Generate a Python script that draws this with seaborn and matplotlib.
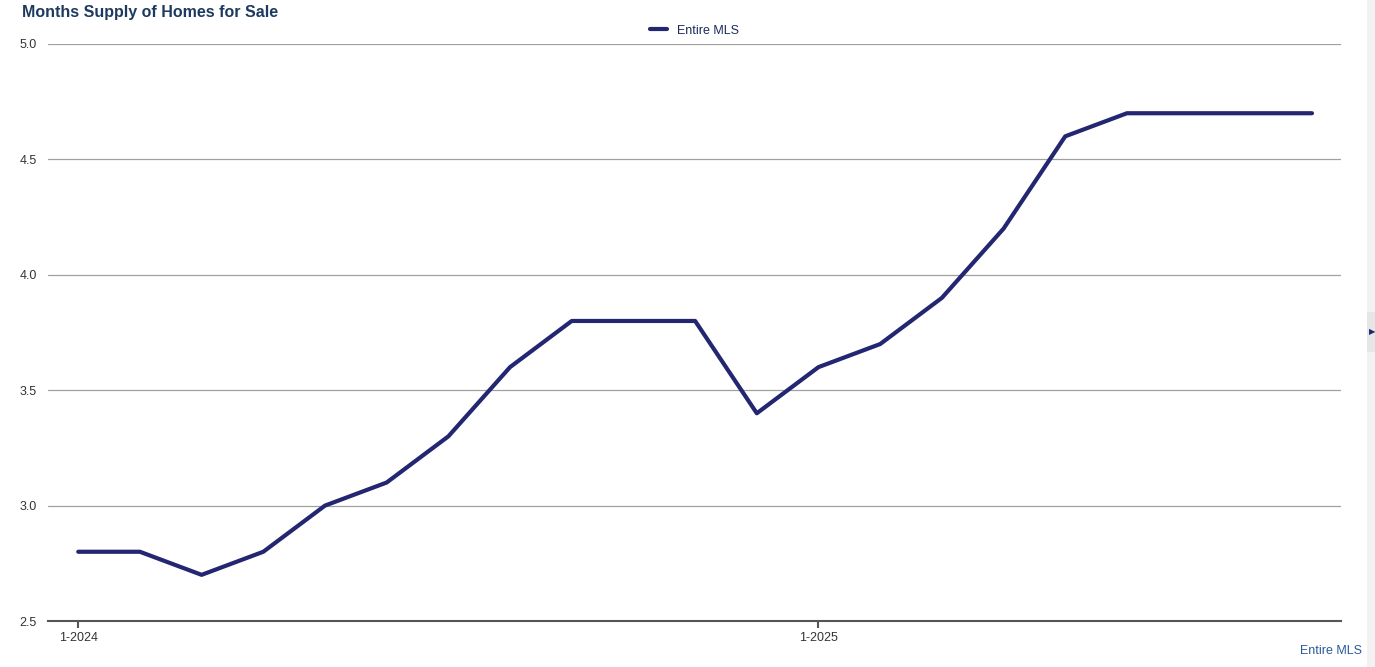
import matplotlib
matplotlib.use("Agg")
import matplotlib.pyplot as plt
import seaborn as sns
import pandas as pd
from matplotlib.patches import Rectangle

months = ["1-2024", "2-2024", "3-2024", "4-2024", "5-2024", "6-2024", "7-2024",
          "8-2024", "9-2024", "10-2024", "11-2024", "12-2024", "1-2025", "2-2025",
          "3-2025", "4-2025", "5-2025", "6-2025", "7-2025", "8-2025", "9-2025"]
supply = [2.8, 2.8, 2.7, 2.8, 3.0, 3.1, 3.3, 3.6, 3.8, 3.8, 3.8, 3.4,
          3.6, 3.7, 3.9, 4.2, 4.6, 4.7, 4.7, 4.7, 4.7]
tick_labels = ["1-2024", "1-2025"]
y_ticks = [2.5, 3.0, 3.5, 4.0, 4.5, 5.0]

sns.set_theme(style="white")
plt.rcParams['font.family'] = ['Liberation Sans', 'DejaVu Sans']

df = pd.DataFrame({"idx": range(len(months)), "month": months, "value": supply,
                   "series": "Entire MLS"})

fig = plt.figure(figsize=(13.75, 6.67), dpi=100)
ax = fig.add_axes([48/1375, 1-621/667, (1341-48)/1375, (621-44)/667])

sns.lineplot(data=df, x="idx", y="value", hue="series", palette=["#232670"],
             linewidth=3.0, ax=ax, legend=True)

ax.set_xlim(-0.49, 20.47)
ax.set_ylim(2.5, 5.0)
ax.set_yticks(y_ticks)
ax.set_yticklabels([f"{v:.1f}" for v in y_ticks])
ax.set_xticks([months.index(t) for t in tick_labels])
ax.set_xticklabels(tick_labels)
ax.set_xlabel("")
ax.set_ylabel("")
ax.grid(axis="y", color="#a0a0a0", linewidth=0.9)
ax.set_axisbelow(True)
for s in ["top", "right", "left"]:
    ax.spines[s].set_visible(False)
ax.spines["bottom"].set_color("#555555")
ax.spines["bottom"].set_linewidth(1.5)
ax.tick_params(axis="x", bottom=True, length=5, width=1.5, color="#555555",
               labelsize=9, labelcolor="#333333", pad=3)
ax.tick_params(axis="y", left=False, length=0, labelsize=9, labelcolor="#333333", pad=8)

leg = ax.legend(loc="lower center", bbox_to_anchor=(0.5, 1.0), frameon=False,
                fontsize=9, handlelength=1.3, borderaxespad=0.2)
for t in leg.get_texts():
    t.set_color("#1a2a5a")

fig.text(22/1375, 1-12/667, "Months Supply of Homes for Sale", fontsize=11.5,
         fontweight="bold", color="#1f3a5f", ha="left", va="center")
fig.text(1362/1375, 1-651/667, "Entire MLS", fontsize=9, color="#2a5a9a",
         ha="right", va="center")

fig.patches.append(Rectangle((1367/1375, 0), 8/1375, 1, transform=fig.transFigure,
                             facecolor="#f2f2f2", edgecolor="none"))
fig.patches.append(Rectangle((1367/1375, 1-352/667), 8/1375, 40/667, transform=fig.transFigure,
                             facecolor="#e6e6e6", edgecolor="none"))
fig.text(1369/1375, 1-333/667, "\u25B6", fontsize=6, color="#1a2a6a", ha="left", va="center")

fig.savefig("out.png", dpi=100, facecolor="white")
